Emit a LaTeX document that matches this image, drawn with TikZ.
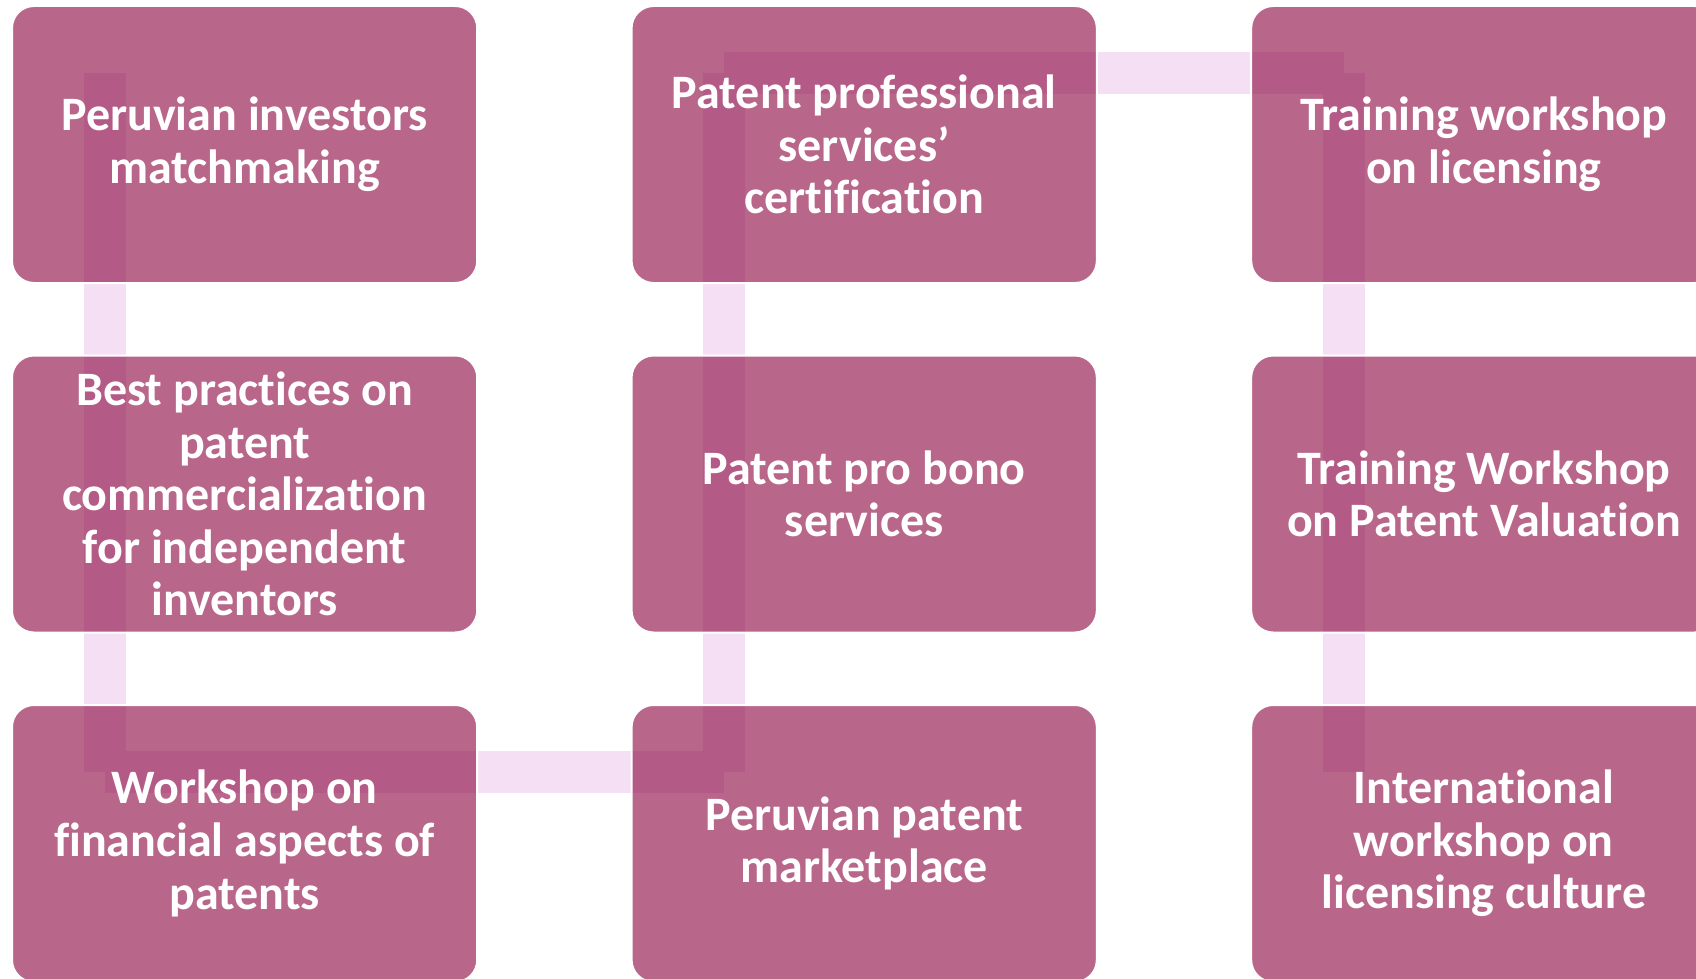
\documentclass[tikz,border=0pt]{standalone}
\usepackage{fontspec}
\setmainfont{Carlito}[Ligatures=NoCommon]
\usepackage{tikz}
\usetikzlibrary{positioning, calc, backgrounds}
\definecolor{boxpink}{RGB}{137,2,60}
\definecolor{linkpink}{RGB}{245,223,245}

\begin{document}
\begin{tikzpicture}[
    stepbox/.style={rectangle, rounded corners=11pt, draw=white, line width=1pt, outer sep=0pt,
        fill=boxpink, fill opacity=0.6, text opacity=1, text=white, align=center,
        minimum width=232.6pt, minimum height=138.5pt,
        font=\fontsize{24}{26.3}\selectfont\bfseries},
    linkbar/.style={draw=linkpink, line width=21pt, line cap=butt}
]
\useasboundingbox (0,0) rectangle (848pt,-489.5pt);

\node[stepbox] at (122.3pt,-72.25pt) (inv) {Peruvian investors\\matchmaking};
\node[stepbox, below=36.25pt of inv] (best) {Best practices on\\patent\\commercialization\\for independent\\inventors};
\node[stepbox, below=36.25pt of best] (fin) {Workshop on\\financial aspects of\\patents};
\node[stepbox, right=77.2pt of fin] (market) {Peruvian patent\\marketplace};
\node[stepbox, above=36.25pt of market] (probono) {Patent pro bono\\services};
\node[stepbox, above=36.25pt of probono] (cert) {Patent professional\\services’\\certification};
\node[stepbox, right=77.2pt of cert] (lic) {Training workshop\\on licensing};
\node[stepbox, below=36.25pt of lic] (valu) {Training Workshop\\on Patent Valuation};
\node[stepbox, below=36.25pt of valu] (intl) {International\\workshop on\\licensing culture};

\coordinate (c1) at ($(inv.north west)+(46.25pt,-33.5pt)$);
\coordinate (c2) at ($(fin.north west)+(46.25pt,-33.5pt)$);
\coordinate (c3) at ($(market.north west)+(46.25pt,-33.5pt)$);
\coordinate (c4) at ($(cert.north west)+(46.25pt,-33.5pt)$);
\coordinate (c5) at ($(lic.north west)+(46.25pt,-33.5pt)$);
\coordinate (c6) at ($(intl.north west)+(46.25pt,-33.5pt)$);

\begin{scope}[on background layer]
\foreach \a/\b in {c1/c2, c2/c3, c3/c4, c4/c5, c5/c6}
    \draw[linkbar] (\a) -- (\b);
\end{scope}
\end{tikzpicture}
\end{document}
